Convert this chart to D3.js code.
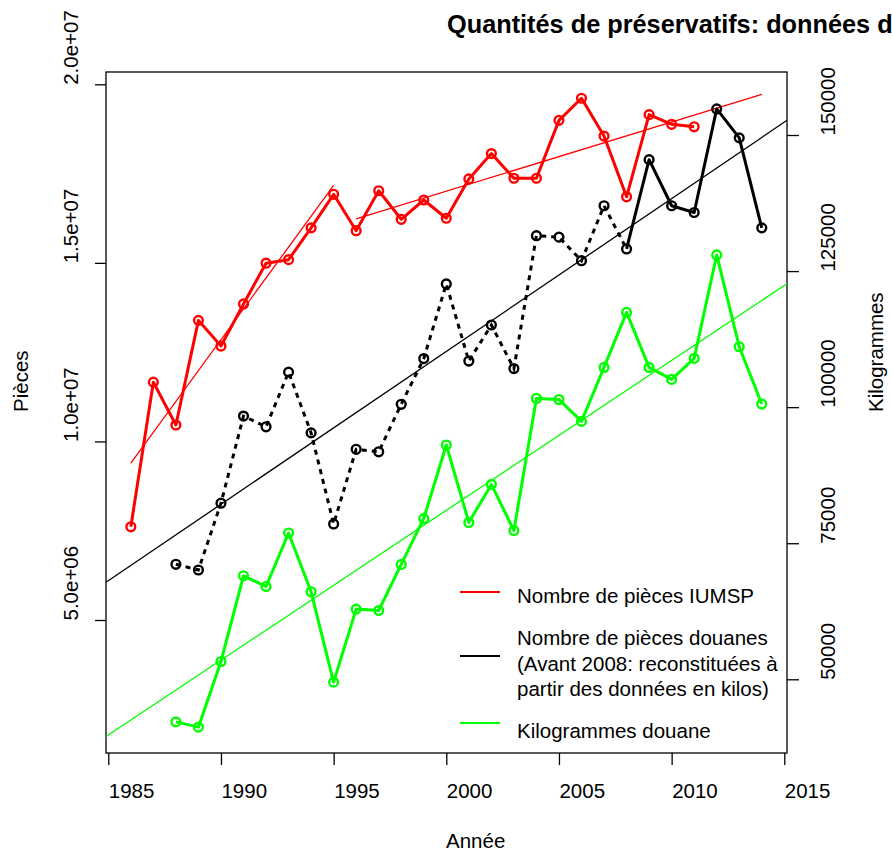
<!DOCTYPE html>
<html>
<head>
<meta charset="utf-8">
<script src="https://cdn.jsdelivr.net/npm/d3@7"></script>
<style>
  body { margin: 0; background: #fff; }
  svg { display: block; }
  text { font-family: "Liberation Sans", Arial, sans-serif; }
</style>
</head>
<body>
<div id="chart"></div>
<script>
// years and values
var yearsIumsp = [1986, 1987, 1988, 1989, 1990, 1991, 1992, 1993, 1994, 1995, 1996, 1997, 1998,
  1999, 2000, 2001, 2002, 2003, 2004, 2005, 2006, 2007, 2008, 2009, 2010, 2011];
var piecesIumsp = [7.61e6, 11.66e6, 10.46e6, 13.39e6, 12.67e6, 13.85e6, 14.99e6, 15.09e6, 15.98e6, 16.92e6,
  15.90e6, 17.02e6, 16.22e6, 16.76e6, 16.25e6, 17.35e6, 18.06e6, 17.37e6, 17.37e6, 18.99e6,
  19.61e6, 18.55e6, 16.85e6, 19.15e6, 18.88e6, 18.81e6];

var yearsDouane = [1988, 1989, 1990, 1991, 1992, 1993, 1994, 1995, 1996, 1997, 1998, 1999, 2000,
  2001, 2002, 2003, 2004, 2005, 2006, 2007, 2008, 2009, 2010, 2011, 2012, 2013, 2014];
var piecesDouane = [6.56e6, 6.40e6, 8.27e6, 10.71e6, 10.41e6, 11.94e6, 10.24e6, 7.69e6, 9.78e6, 9.71e6,
  11.04e6, 12.32e6, 14.41e6, 12.25e6, 13.26e6, 12.04e6, 15.76e6, 15.72e6, 15.06e6, 16.60e6,
  15.39e6, 17.89e6, 16.60e6, 16.41e6, 19.31e6, 18.50e6, 15.98e6];
var kgDouane = [42180, 41210, 53270, 69020, 67050, 76870, 66080, 49480, 62900, 62640,
  71100, 79550, 93040, 78820, 85800, 77340, 101600, 101400, 97380, 107300,
  117400, 107300, 105100, 108960, 127960, 111100, 100580];
var reconstructedUntil = 2008; // dashed before this year

// trend lines: [year, value] end points
var fitIumspEarly = [[1986, 9.39e6], [1995, 17.17e6]];
var fitIumspLate = [[1996, 16.23e6], [2014, 19.72e6]];
var fitPiecesDouane = [[1985, 6.10e6], [2015, 18.94e6]];   // abline
var fitKgDouane = [[1985, 39760], [2015, 122340]];         // abline

var xTicks = [1985, 1990, 1995, 2000, 2005, 2010, 2015];
var leftTicks = [5e6, 1e7, 1.5e7, 2e7];
var rightTicks = [50000, 75000, 100000, 125000, 150000];

var legendLabels = [
  ["Nombre de pièces IUMSP"],
  ["Nombre de pièces douanes", "(Avant 2008: reconstituées à", "partir des données en kilos)"],
  ["Kilogrammes douane"]
];
var legendColors = ["#ff0000", "#000000", "#00ff00"];

var title = "Quantités de préservatifs: données de vente et de douane";

// size of the page and of the plot box
var width = 892, height = 853;
var box = {left: 106, right: 787, top: 72, bottom: 753};
var fontSize = "20.5px";

var svg = d3.select("#chart")
  .append("svg")
  .attr("width", width)
  .attr("height", height);

svg.append("rect")
  .attr("width", width)
  .attr("height", height)
  .attr("fill", "#fff");

var x = d3.scaleLinear()
  .domain([1985, 2015])
  .range([108.3, 784.3]);

var yLeft = d3.scaleLinear()
  .domain([5e6, 2e7])
  .range([620, 84.3]);

var yRight = d3.scaleLinear()
  .domain([50000, 150000])
  .range([679.3, 135]);

function sciFormat(d) {
  var e = Math.floor(Math.log10(d));
  var m = (d / Math.pow(10, e)).toFixed(1);
  return m + "e+" + (e < 10 ? "0" + e : e);
}

// x axis, R style labels (left edge on the tick)
var gx = svg.append("g")
  .attr("transform", "translate(0," + box.bottom + ")")
  .call(d3.axisBottom(x).tickValues(xTicks).tickFormat(d3.format("d"))
    .tickSize(12).tickSizeOuter(0));
gx.selectAll("text")
  .attr("y", 45.3)
  .attr("dy", 0)
  .attr("x", 0)
  .style("text-anchor", "start")
  .style("font-size", fontSize)
  .style("fill", "#000");

// left axis, rotated labels
var gl = svg.append("g")
  .attr("transform", "translate(" + box.left + ",0)")
  .call(d3.axisLeft(yLeft).tickValues(leftTicks).tickFormat(sciFormat)
    .tickSize(11).tickSizeOuter(0));
gl.selectAll("text")
  .attr("transform", "rotate(-90)")
  .attr("x", 0)
  .attr("y", -28)
  .attr("dy", 0)
  .style("text-anchor", "start")
  .style("font-size", fontSize)
  .style("fill", "#000");

// right axis (kilogrammes)
var gr = svg.append("g")
  .attr("transform", "translate(" + box.right + ",0)")
  .call(d3.axisRight(yRight).tickValues(rightTicks).tickFormat(d3.format("d"))
    .tickSize(12).tickSizeOuter(0));
gr.selectAll("text")
  .attr("transform", "rotate(-90)")
  .attr("x", 0)
  .attr("y", 48)
  .attr("dy", 0)
  .style("text-anchor", "start")
  .style("font-size", fontSize)
  .style("fill", "#000");

svg.selectAll(".domain").remove();
svg.selectAll(".tick line")
  .attr("stroke", "#000")
  .attr("stroke-width", 1.3);

// plot box
svg.append("rect")
  .attr("x", box.left)
  .attr("y", box.top)
  .attr("width", box.right - box.left)
  .attr("height", box.bottom - box.top)
  .attr("fill", "none")
  .attr("stroke", "#000")
  .attr("stroke-width", 1.3);

var plot = svg.append("g");

// trend lines
function extend(fit, x0, x1) {
  var s = (fit[1][1] - fit[0][1]) / (fit[1][0] - fit[0][0]);
  return [[x0, fit[0][1] + s * (x0 - fit[0][0])], [x1, fit[0][1] + s * (x1 - fit[0][0])]];
}
var xMin = x.invert(box.left), xMax = x.invert(box.right);

function drawFit(pts, yScale, color) {
  plot.append("path")
    .datum(pts)
    .attr("fill", "none")
    .attr("stroke", color)
    .attr("stroke-width", 1.3)
    .attr("d", d3.line()
      .x(function (d) { return x(d[0]); })
      .y(function (d) { return yScale(d[1]); }));
}
drawFit(fitIumspEarly, yLeft, "#ff0000");
drawFit(fitIumspLate, yLeft, "#ff0000");
drawFit(extend(fitPiecesDouane, xMin, xMax), yLeft, "#000000");
drawFit(extend(fitKgDouane, xMin, xMax), yRight, "#00ff00");

// series (type "o": line plus open circles)
function drawSeries(years, values, yScale, color, dashFrom) {
  var data = years.map(function (yr, i) { return {year: yr, value: values[i]}; });
  var line = d3.line()
    .x(function (d) { return x(d.year); })
    .y(function (d) { return yScale(d.value); });

  if (dashFrom) {
    plot.append("path")
      .datum(data.filter(function (d) { return d.year <= dashFrom; }))
      .attr("fill", "none")
      .attr("stroke", color)
      .attr("stroke-width", 3)
      .attr("stroke-dasharray", "5,5")
      .attr("d", line);
    plot.append("path")
      .datum(data.filter(function (d) { return d.year >= dashFrom; }))
      .attr("fill", "none")
      .attr("stroke", color)
      .attr("stroke-width", 3)
      .attr("stroke-linejoin", "round")
      .attr("d", line);
  } else {
    plot.append("path")
      .datum(data)
      .attr("fill", "none")
      .attr("stroke", color)
      .attr("stroke-width", 3)
      .attr("stroke-linejoin", "round")
      .attr("d", line);
  }

  plot.selectAll(null)
    .data(data)
    .enter()
    .append("circle")
    .attr("cx", function (d) { return x(d.year); })
    .attr("cy", function (d) { return yScale(d.value); })
    .attr("r", 4.4)
    .attr("fill", "none")
    .attr("stroke", color)
    .attr("stroke-width", 2.4);
}
drawSeries(yearsIumsp, piecesIumsp, yLeft, "#ff0000");
drawSeries(yearsDouane, piecesDouane, yLeft, "#000000", reconstructedUntil);
drawSeries(yearsDouane, kgDouane, yRight, "#00ff00");

// legend (no frame)
var legendRows = [596, 660, 727];
var legendBase = [[603.3], [645, 670.7, 696.4], [737.7]];
legendLabels.forEach(function (lines, i) {
  svg.append("line")
    .attr("x1", 460)
    .attr("x2", 500)
    .attr("y1", legendRows[i] - 4)
    .attr("y2", legendRows[i] - 4)
    .attr("stroke", legendColors[i])
    .attr("stroke-width", 2);
  lines.forEach(function (t, j) {
    svg.append("text")
      .attr("x", 517)
      .attr("y", legendBase[i][j])
      .style("font-size", fontSize)
      .style("fill", "#000")
      .text(t);
  });
});

// titles
svg.append("text")
  .attr("x", 447)
  .attr("y", 33)
  .style("font-size", "25.3px")
  .style("font-weight", "bold")
  .text(title);

svg.append("text")
  .attr("x", 446)
  .attr("y", 848.3)
  .style("font-size", fontSize)
  .text("Année");

svg.append("text")
  .attr("transform", "translate(28,412) rotate(-90)")
  .style("font-size", fontSize)
  .text("Pièces");

svg.append("text")
  .attr("transform", "translate(883,412) rotate(-90)")
  .style("font-size", fontSize)
  .text("Kilogrammes");
</script>
</body>
</html>
